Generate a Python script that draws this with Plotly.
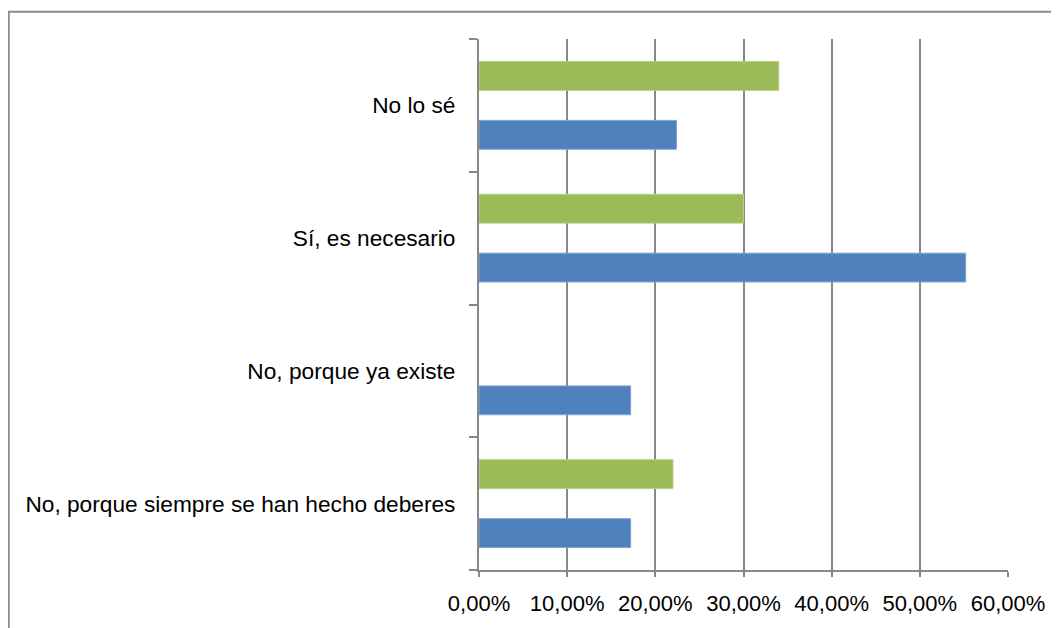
import plotly.graph_objects as go

categories = [
    "No, porque siempre se han hecho deberes",
    "No, porque ya existe",
    "Sí, es necesario",
    "No lo sé",
]
serie_azul = [0.172, 0.172, 0.552, 0.224]
serie_verde = [0.22, None, 0.30, 0.34]
x_ticks = [0, 0.1, 0.2, 0.3, 0.4, 0.5, 0.6]
x_tick_labels = ["0,00%", "10,00%", "20,00%", "30,00%", "40,00%", "50,00%", "60,00%"]

FONT = "Liberation Sans, Arial, sans-serif"

fig = go.Figure()
fig.add_trace(go.Bar(y=categories, x=serie_azul, orientation="h", name="Serie 1",
                     marker=dict(color="#4F81BD", line=dict(color="#7FA3D3", width=1))))
fig.add_trace(go.Bar(y=categories, x=serie_verde, orientation="h", name="Serie 2",
                     marker=dict(color="#9BBB59", line=dict(color="#B5CF85", width=1))))

fig.update_layout(
    width=1059, height=628,
    margin=dict(l=471, r=59, t=31, b=66),
    paper_bgcolor="white", plot_bgcolor="white",
    barmode="group", bargap=0.113, bargroupgap=0.51,
    showlegend=False,
    font=dict(family=FONT, size=22, color="black"),
    xaxis=dict(
        range=[0, 0.6], tickvals=x_ticks, ticktext=x_tick_labels,
        tickfont=dict(size=22), automargin=False,
        showgrid=True, gridcolor="#888888", gridwidth=1.5,
        showline=True, linecolor="#888888", linewidth=2,
        ticks="outside", ticklen=5, tickcolor="#888888", tickwidth=1.5,
        ticklabelstandoff=8,
        zeroline=False, fixedrange=True,
    ),
    yaxis=dict(
        type="category", categoryorder="array", categoryarray=categories,
        tickfont=dict(size=22.7), automargin=False,
        showgrid=False, showline=True, linecolor="#888888", linewidth=2,
        ticks="outside", tickson="boundaries", ticklen=8, tickcolor="#888888", tickwidth=1.5,
        ticklabelstandoff=17, zeroline=False, fixedrange=True,
    ),
    shapes=[dict(type="rect", xref="paper", yref="paper",
                 x0=-0.889, x1=1.13, y0=-0.14, y1=1.0514,
                 line=dict(color="#8A8A8A", width=2), fillcolor="rgba(0,0,0,0)", layer="below")],
)

fig.write_html("out.html")
